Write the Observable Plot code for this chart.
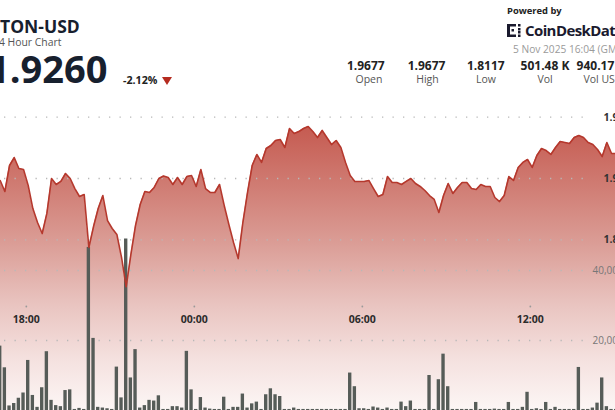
<!DOCTYPE html>
<html><head><meta charset="utf-8">
<script src="https://cdn.jsdelivr.net/npm/d3@7"></script>
<script src="https://cdn.jsdelivr.net/npm/@observablehq/plot@0.6"></script>
<style>
html,body{margin:0;padding:0;background:#fff;}
#root{position:relative;width:615px;height:410px;overflow:hidden;background:#fff;font-family:"Open Sans",sans-serif;}
.abs{position:absolute;white-space:nowrap;line-height:1;}
.layer{position:absolute;left:0;top:90px;}
.stat{position:absolute;width:70px;text-align:center;white-space:nowrap;line-height:1;}
.sv{font-weight:700;font-size:12px;color:#222;top:59.5px;}
.sl{font-size:10.5px;color:#555;top:74px;}
</style></head><body>
<div id="root">
  <div class="abs" style="left:0px;top:17.8px;font-size:17.5px;font-weight:700;color:#17202e;">TON-USD</div>
  <div class="abs" style="left:-7px;top:36.6px;font-size:10.4px;color:#555;">24 Hour Chart</div>
  <div class="abs" style="left:-12px;top:49px;font-size:38px;font-weight:700;color:#17202e;">1.9260</div>
  <div class="abs" style="left:123px;top:74.8px;font-size:10.7px;font-weight:700;color:#222;">-2.12%</div>
  <div class="abs" style="left:162px;top:77px;width:0;height:0;border-left:5px solid transparent;border-right:5px solid transparent;border-top:8px solid #b52b1f;"></div>

  <div class="abs" style="left:507px;top:5.7px;font-size:9.4px;font-weight:700;color:#222;">Powered by</div>
  <svg class="abs" style="left:507px;top:24px;" width="16" height="13" viewBox="0 0 16 13">
    <rect x="0" y="0" width="3" height="13" fill="#1a1a2e"/>
    <rect x="0" y="0" width="9" height="2.5" fill="#1a1a2e"/>
    <rect x="0" y="10.5" width="9" height="2.5" fill="#1a1a2e"/>
    <rect x="4.5" y="5" width="2.5" height="2.5" fill="#1a1a2e"/>
    <rect x="11" y="0" width="2.5" height="2.5" fill="#1a1a2e"/>
    <rect x="11" y="4" width="2.5" height="2.5" fill="#1a1a2e"/>
    <rect x="11" y="7" width="2.5" height="2.5" fill="#1a1a2e"/>
    <rect x="11" y="10.5" width="2.5" height="2.5" fill="#1a1a2e"/>
  </svg>
  <div class="abs" style="left:525px;top:22.5px;font-size:15px;font-weight:700;color:#1a1a2e;letter-spacing:-0.6px;">CoinDeskData</div>
  <div class="abs" style="left:513px;top:44.2px;font-size:10.2px;color:#9a9a9a;">5 Nov 2025 16:04 (GMT)</div>

  <div class="stat sv" style="left:330.8px;">1.9677</div>
  <div class="stat sv" style="left:391.5px;">1.9677</div>
  <div class="stat sv" style="left:450.8px;">1.8117</div>
  <div class="stat sv" style="left:510px;">501.48 K</div>
  <div class="stat sv" style="left:566px;">940.17 K</div>
  <div class="stat sl" style="left:334px;">Open</div>
  <div class="stat sl" style="left:392.5px;">High</div>
  <div class="stat sl" style="left:451px;">Low</div>
  <div class="stat sl" style="left:510px;">Vol</div>
  <div class="stat sl" style="left:568px;">Vol USD</div>
</div>
<script>
// ---- data (10-minute points) ----
const startTime = "2025-11-04T17:04:00Z";
const stepMinutes = 10;
const price = [
1.8984,1.8894,1.9106,1.9171,1.9082,1.9073,1.8943,1.8755,1.8641,1.8551,
1.8715,1.9000,1.8951,1.8976,1.9041,1.9000,1.8918,1.8853,1.8869,1.8437,
1.8608,1.8755,1.8861,1.8657,1.8592,1.8543,1.8356,1.8117,1.8380,1.8617,
1.8788,1.8894,1.8886,1.8927,1.9000,1.9020,1.9008,1.8951,1.9008,1.8951,
1.9016,1.9024,1.8935,1.9073,1.8918,1.8886,1.8886,1.8951,1.8780,1.8625,
1.8478,1.8347,1.8641,1.8886,1.9106,1.9196,1.9131,1.9245,1.9269,1.9310,
1.9318,1.9253,1.9408,1.9367,1.9383,1.9408,1.9424,1.9383,1.9334,1.9392,
1.9334,1.9277,1.9310,1.9253,1.9131,1.9024,1.8976,1.8976,1.8976,1.8984,
1.8918,1.8853,1.8869,1.9016,1.8967,1.8967,1.8951,1.8976,1.9000,1.8959,
1.8935,1.8902,1.8861,1.8829,1.8723,1.8861,1.8959,1.8878,1.8927,1.8967,
1.8967,1.8918,1.8910,1.8951,1.8935,1.8935,1.8845,1.8812,1.8861,1.9016,
1.8984,1.9090,1.9131,1.9155,1.9090,1.9188,1.9245,1.9228,1.9196,1.9253,
1.9302,1.9294,1.9285,1.9334,1.9351,1.9334,1.9294,1.9277,1.9237,1.9179,
1.9294,1.9204,1.9204
];
const volume = [
18400,12200,1300,2000,3500,5000,14300,4300,900,6500,
16800,2900,1400,1100,5700,5900,300,600,300,46600,
20600,900,700,500,300,12400,3600,49000,9300,17400,
700,1400,2900,2700,4200,300,300,1100,1100,700,
16900,5900,300,3700,700,400,300,300,3800,300,
900,900,4700,700,1900,2400,300,4500,6200,4500,
4000,300,300,700,300,300,300,300,300,300,
300,300,300,300,300,10700,6800,500,500,300,
1000,700,300,700,300,300,2400,1100,2700,300,
300,300,10000,300,8800,16100,6800,300,300,300,
300,300,2300,300,300,300,400,300,300,2300,
300,300,900,5200,300,500,300,2300,300,900,
300,300,300,300,12300,300,300,700,2100,9300,
1100,300,300
];
const priceTicks = [1.85, 1.90, 1.95];
const volumeTicks = [20000, 40000];
const timeTicks = ["2025-11-04T18:00:00Z","2025-11-05T00:00:00Z","2025-11-05T06:00:00Z","2025-11-05T12:00:00Z"];
const timeTickLabels = ["18:00","00:00","06:00","12:00"];

// ---- build table ----
const t0 = new Date(startTime);
const MIN = 60000;
const rows = price.map((p, i) => ({time: new Date(+t0 + i * stepMinutes * MIN), price: p, volume: volume[i]}));
const xScale = {type: "utc", domain: [new Date(+t0 + 0.643 * MIN), new Date(+t0 + 1318.5 * MIN)], range: [0, 615], axis: null};
const priceY = {domain: [1.85, 1.95], range: [149.3, 26.7], axis: null};
const volY = {domain: [0, 40000], range: [320, 180], axis: null};
const style = {background: "transparent", fontFamily: "'Open Sans', sans-serif", overflow: "visible"};
const base = {width: 615, height: 320, marginLeft: 0, marginRight: 0, marginTop: 0, marginBottom: 0, style};

const gradientDefs = () => {
  const defs = d3.create("svg:defs");
  const g = defs.append("linearGradient").attr("id", "tonGrad")
    .attr("gradientUnits", "userSpaceOnUse").attr("x1", 0).attr("y1", 35).attr("x2", 0).attr("y2", 320);
  [[0, "#c55a50"], [0.2, "#cf7a71"], [0.42, "#db9e97"], [0.63, "#e9c4c0"], [0.83, "#f5e2e0"], [1, "#fcf6f5"]]
    .forEach(([o, c]) => g.append("stop").attr("offset", o).attr("stop-color", c));
  return defs.node();
};

const layers = [];
// 1. area
layers.push(Plot.plot({...base, x: xScale, y: priceY, marks: [
  gradientDefs,
  Plot.areaY(rows, {x: "time", y1: 1.6, y2: "price", fill: "url(#tonGrad)", clip: true})
]}));
// 2. price grid + labels
layers.push(Plot.plot({...base, marginRight: 30, y: priceY, marks: [
  Plot.ruleY(priceTicks, {stroke: "#b8b8b8", strokeWidth: 1.3, strokeDasharray: "1.3,9.2", strokeDashoffset: -4}),
  Plot.text(priceTicks, {y: d => d, text: d => d.toFixed(2), frameAnchor: "right", dx: 18, textAnchor: "start",
    fontWeight: "bold", fontSize: 10.5, fill: "#333"})
]}));
// 3. volume grid + labels
layers.push(Plot.plot({...base, marginRight: 30, y: volY, marks: [
  Plot.ruleY(volumeTicks, {stroke: "#b8b8b8", strokeWidth: 1.3, strokeDasharray: "1.3,9.2", strokeDashoffset: -4}),
  Plot.text(volumeTicks, {y: d => d, text: d => d3.format(",")(d), frameAnchor: "right", dx: 7, textAnchor: "start",
    fontSize: 10, fill: "#777"})
]}));
// 4. volume bars
layers.push(Plot.plot({...base, x: xScale, y: volY, marks: [
  Plot.rectY(rows, {x1: d => new Date(+d.time - 3.6 * MIN), x2: d => new Date(+d.time + 3.6 * MIN), y1: 0, y2: "volume", fill: "#565c58"})
]}));
// 5. price line + time labels
layers.push(Plot.plot({...base, marginBottom: 104, x: xScale, y: priceY, marks: [
  Plot.lineY(rows, {x: "time", y: "price", stroke: "#b5382d", strokeWidth: 1.6, strokeLinejoin: "round"}),
  Plot.dot(timeTicks, {x: d => new Date(d), frameAnchor: "bottom", r: 0.9, fill: "#999", stroke: "none"}),
  Plot.text(timeTicks, {x: d => new Date(d), text: (d, i) => timeTickLabels[i], frameAnchor: "bottom", dy: 16,
    fontWeight: "bold", fontSize: 10.5, fill: "#2b2b2b"})
]}));

const root = document.getElementById("root");
layers.forEach(svg => { svg.classList.add("layer"); root.appendChild(svg); });
</script>
</body></html>
